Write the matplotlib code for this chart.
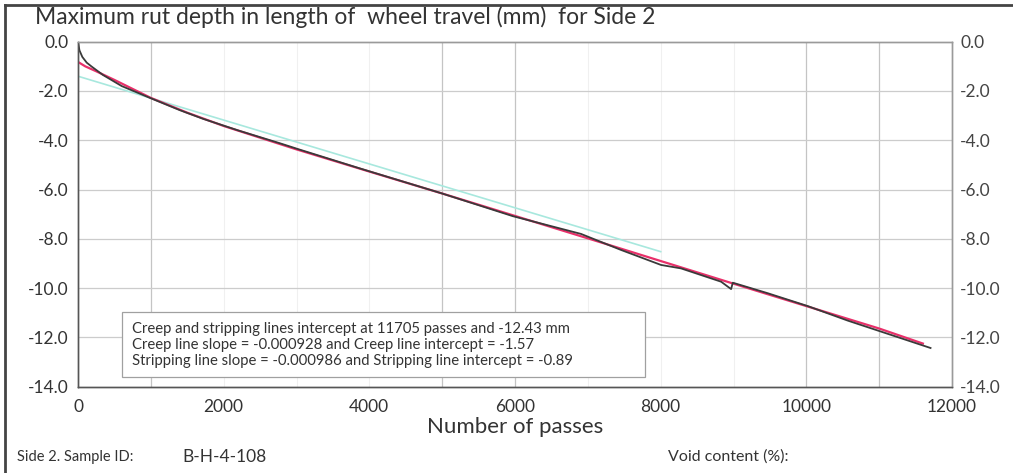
import matplotlib
matplotlib.use("Agg")
import matplotlib.pyplot as plt
from matplotlib.lines import Line2D
from matplotlib.patches import Rectangle

plt.rcParams['font.family'] = ['Lato', 'DejaVu Sans']

# Measured rut depth (mm) against wheel passes
passes = [0, 20, 60, 120, 188, 343, 600, 988, 1400, 1718, 2200, 2771, 3045, 3868,
          4989, 5970, 6906, 7455, 8005, 8280, 8830, 8967, 8990, 9473, 10020, 10570,
          11000, 11705]
rut_depth = [0, -0.35, -0.62, -0.85, -1.01, -1.35, -1.80, -2.28, -2.78, -3.13, -3.60,
             -4.12, -4.38, -5.14, -6.15, -7.08, -7.80, -8.45, -9.06, -9.20, -9.74,
             -10.04, -9.78, -10.21, -10.73, -11.32, -11.74, -12.43]

# Fitted model curve
fit_passes = [0, 100, 250, 500, 1000, 1500, 2000, 3000, 4000, 5000, 6000, 7000, 8000,
              9000, 10000, 11000, 11600]
fit_depth = [-0.82, -1.0, -1.2, -1.55, -2.28, -2.88, -3.42, -4.37, -5.27, -6.16, -7.07,
             -7.98, -8.90, -9.82, -10.73, -11.64, -12.25]

# Creep line trace
creep_passes = [0, 8000]
creep_depth = [-1.4, -8.52]

y_ticks = [0.0, -2.0, -4.0, -6.0, -8.0, -10.0, -12.0, -14.0]
x_ticks = [0, 2000, 4000, 6000, 8000, 10000, 12000]
strong_vgrid = [1000, 5000, 6000, 10000, 11000]
faint_vgrid = [2000, 3000, 4000, 7000, 8000, 9000]

info_lines = [
    "Creep and stripping lines intercept at 11705 passes and -12.43 mm",
    "Creep line slope = -0.000928 and Creep line intercept = -1.57",
    "Stripping line slope = -0.000986 and Stripping line intercept = -0.89",
]

sample_id = "B-H-4-108"

TXT = "#333333"

fig = plt.figure(figsize=(10.13, 4.73), dpi=100)
ax = fig.add_axes([0.0770, 0.1825, 0.8628, 0.7293])

ax.set_xlim(0, 12000)
ax.set_ylim(-14, 0)

for v in faint_vgrid:
    ax.axvline(v, color="#f0f0f0", lw=0.8, zorder=0)
for v in strong_vgrid:
    ax.axvline(v, color="#c4c4c4", lw=0.9, zorder=0)
for h in y_ticks[1:-1]:
    ax.axhline(h, color="#cccccc", lw=0.9, zorder=0)

ax.plot(creep_passes, creep_depth, color="#a8e8de", lw=1.2, zorder=2)
ax.plot(fit_passes, fit_depth, color="#e8306a", lw=1.6, zorder=3)
ax.plot(passes, rut_depth, color="#3a3a3a", lw=1.3, zorder=4)

ax.set_yticks(y_ticks)
ax.set_yticklabels([f"{v:.1f}" for v in y_ticks], fontsize=12.5, color=TXT)
ax.set_xticks(x_ticks)
ax.set_xticklabels([str(v) for v in x_ticks], fontsize=12.5, color=TXT)
ax.tick_params(axis="y", length=0, pad=7)
ax.tick_params(axis="x", length=0, pad=9)

axr = ax.twinx()
axr.set_ylim(-14, 0)
axr.set_yticks(y_ticks)
axr.set_yticklabels([f"{v:.1f}" for v in y_ticks], fontsize=12.5, color="#444444")
axr.tick_params(axis="y", length=0, pad=6)

for a in (ax, axr):
    a.spines["left"].set_color("#555555")
    a.spines["bottom"].set_color("#555555")
    a.spines["top"].set_color("#9a9a9a")
    a.spines["right"].set_color("#9a9a9a")
    for s in a.spines.values():
        s.set_linewidth(1.0)

ax.set_xlabel("Number of passes", fontsize=16, color=TXT, labelpad=1)

# Summary box of the creep / stripping line fits
ax.add_patch(Rectangle((0.0503, 0.0281), 0.5984, 0.1884, transform=ax.transAxes,
                       facecolor="white", edgecolor="#a0a0a0", linewidth=0.9, zorder=6))
for i, line in enumerate(info_lines):
    ax.text(0.0618, 0.1672 - i * 0.0464, line, transform=ax.transAxes,
            fontsize=10.7, color=TXT, va="center", ha="left", zorder=7)

fig.text(35 / 1013, 1 - 17 / 473, "Maximum rut depth in length of  wheel travel (mm)  for Side 2",
         fontsize=16.5, color=TXT, ha="left", va="center")
fig.text(17 / 1013, 1 - 457 / 473, "Side 2. Sample ID:",
         fontsize=10.5, color=TXT, ha="left", va="center")
fig.text(182 / 1013, 1 - 457 / 473, sample_id,
         fontsize=12.5, color=TXT, ha="left", va="center")
fig.text(668 / 1013, 1 - 457 / 473, "Void content (%):",
         fontsize=11.5, color=TXT, ha="left", va="center")

# outer frame edges
fig.add_artist(Line2D([5 / 1013, 5 / 1013], [0, 1 - 5 / 473], transform=fig.transFigure,
                      color="#444444", lw=2))
fig.add_artist(Line2D([5 / 1013, 1], [1 - 5 / 473, 1 - 5 / 473], transform=fig.transFigure,
                      color="#444444", lw=2))

fig.savefig("out.png", dpi=100)
